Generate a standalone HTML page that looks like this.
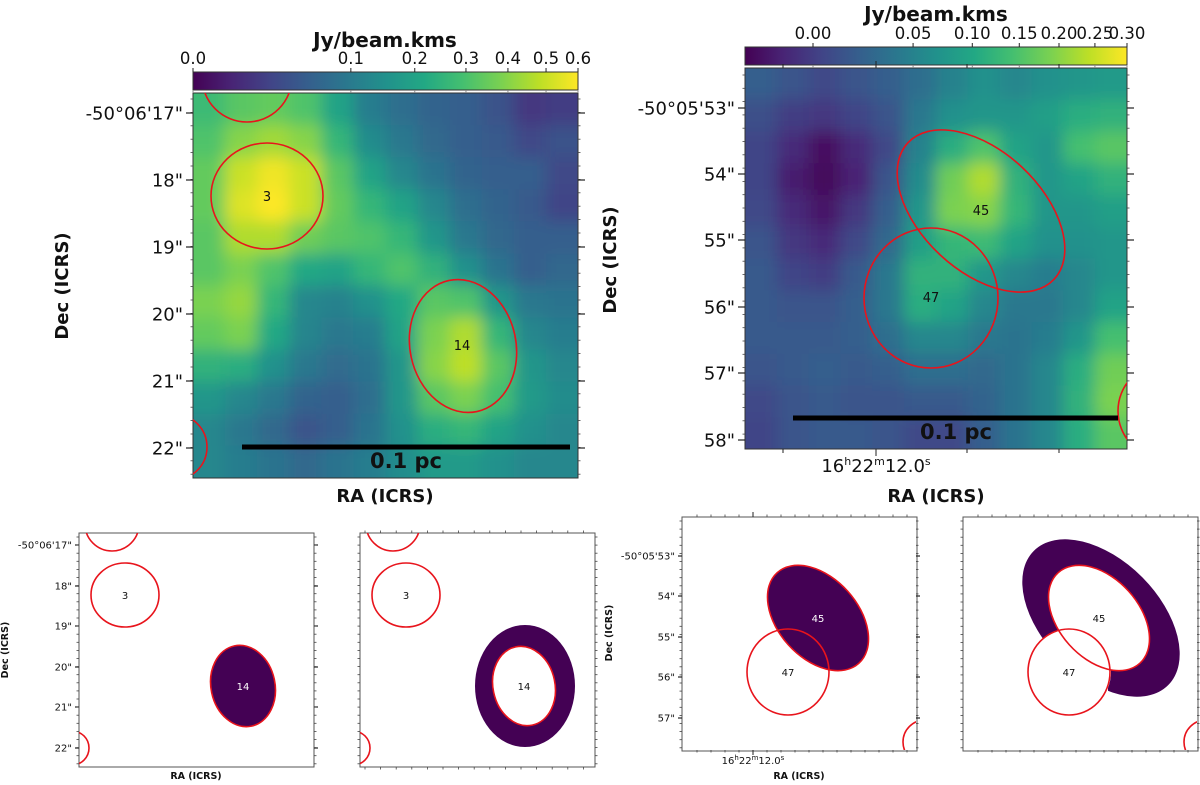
<!DOCTYPE html>
<html><head><meta charset="utf-8"><style>
html,body{margin:0;padding:0;background:#fff;}
svg{display:block;font-family:"DejaVu Sans","Liberation Sans",sans-serif;}
</style></head><body>
<svg id="fig" width="1200" height="785" viewBox="0 0 1200 785" xmlns="http://www.w3.org/2000/svg">
<defs>
<linearGradient id="viridis" x1="0" x2="1" y1="0" y2="0">
<stop offset="0" stop-color="#440154"/><stop offset=".1" stop-color="#482475"/><stop offset=".2" stop-color="#414487"/><stop offset=".3" stop-color="#355f8d"/><stop offset=".4" stop-color="#2a788e"/><stop offset=".5" stop-color="#21918c"/><stop offset=".6" stop-color="#22a884"/><stop offset=".7" stop-color="#44bf70"/><stop offset=".8" stop-color="#7ad151"/><stop offset=".9" stop-color="#bddf26"/><stop offset="1" stop-color="#fde725"/>
</linearGradient>
<filter id="blurA" x="-20%" y="-20%" width="140%" height="140%"><feGaussianBlur stdDeviation="8"/></filter>
<clipPath id="clipTL"><rect x="193" y="93" width="385" height="385"/></clipPath>
<clipPath id="clipTR"><rect x="745" y="68" width="382" height="381"/></clipPath>
<clipPath id="clipBL1"><rect x="79" y="533" width="235" height="234"/></clipPath>
<clipPath id="clipBL2"><rect x="360" y="533" width="235" height="234"/></clipPath>
<clipPath id="clipBR1"><rect x="682" y="517" width="234" height="233"/></clipPath>
<clipPath id="clipBR2"><rect x="963" y="517" width="234" height="233"/></clipPath>
<mask id="ringBL"><rect x="0" y="0" width="1200" height="785" fill="black"/><ellipse cx="525" cy="686" rx="50" ry="61" fill="white"/><ellipse cx="524" cy="686" rx="31" ry="40" transform="rotate(-12 524 686)" fill="black"/></mask>
<mask id="ringBR"><rect x="0" y="0" width="1200" height="785" fill="black"/><ellipse cx="1101" cy="618" rx="95" ry="58" transform="rotate(45 1101 618)" fill="white"/><ellipse cx="1099" cy="618" rx="61" ry="40" transform="rotate(48 1099 618)" fill="black"/><ellipse cx="1069" cy="672" rx="42" ry="43" fill="black"/><rect x="960" y="640" width="148" height="120" fill="black"/></mask>
</defs>
<g id="root"></g>
</svg>
<script>
// ---- data ----
const tlValues = [
[.68,.74,.76,.72,.58,.42,.36,.32,.3,.25,.16,.18],
[.72,.82,.86,.82,.66,.48,.4,.34,.3,.28,.22,.25],
[.76,.92,.98,.92,.74,.58,.46,.38,.32,.3,.3,.22],
[.76,.95,1.0,.92,.76,.66,.58,.46,.36,.32,.28,.2],
[.74,.88,.88,.78,.74,.72,.66,.52,.4,.33,.3,.3],
[.74,.8,.72,.6,.58,.66,.72,.64,.5,.38,.3,.33],
[.8,.84,.66,.46,.44,.5,.6,.74,.72,.52,.4,.38],
[.76,.8,.6,.45,.4,.42,.58,.8,.88,.66,.46,.42],
[.64,.62,.5,.4,.35,.38,.52,.82,.9,.74,.52,.46],
[.52,.46,.4,.32,.3,.36,.52,.74,.8,.7,.54,.48],
[.46,.4,.34,.26,.3,.38,.5,.62,.66,.58,.5,.46],
[.46,.42,.38,.34,.38,.42,.48,.54,.54,.5,.46,.46]];
const trValues = [
[.3,.26,.22,.26,.3,.36,.44,.5,.46,.5,.52,.54],
[.24,.18,.16,.2,.26,.4,.5,.52,.52,.56,.62,.64],
[.2,.12,.04,.12,.22,.44,.62,.72,.58,.52,.7,.74],
[.2,.08,.02,.1,.26,.48,.78,.88,.64,.52,.58,.64],
[.22,.12,.06,.16,.3,.52,.8,.82,.66,.52,.52,.56],
[.26,.16,.12,.22,.34,.56,.66,.68,.58,.5,.5,.52],
[.28,.2,.18,.28,.4,.64,.64,.52,.46,.42,.46,.52],
[.28,.26,.26,.3,.4,.62,.58,.46,.4,.4,.46,.58],
[.28,.28,.28,.3,.36,.46,.46,.4,.38,.42,.52,.7],
[.26,.28,.3,.28,.3,.36,.36,.34,.38,.46,.62,.78],
[.22,.26,.28,.26,.26,.28,.28,.32,.38,.46,.64,.8],
[.2,.26,.28,.28,.26,.22,.22,.3,.38,.46,.62,.74]];
const tlCbarLabels = ["0.0","0.1","0.2","0.3","0.4","0.5","0.6"];
const tlCbarFrac = [0,0.41,0.576,0.709,0.818,0.917,1];
const trCbarLabels = ["0.00","0.05","0.10","0.15","0.20","0.25","0.30"];
const trCbarFrac = [0.178,0.44,0.595,0.718,0.822,0.916,1];
const tlDecLabels = ["-50°06'17\"","18\"","19\"","20\"","21\"","22\""];
const trDecLabels = ["-50°05'53\"","54\"","55\"","56\"","57\"","58\""];
const brDecLabels = ["-50°05'53\"","54\"","55\"","56\"","57\""];

const NS="http://www.w3.org/2000/svg";
const root=document.getElementById('root');
function el(tag,attrs,parent,text){const e=document.createElementNS(NS,tag);for(const k in attrs)e.setAttribute(k,attrs[k]);if(text!==undefined)e.textContent=text;(parent||root).appendChild(e);return e;}
const stops=["#440154","#482475","#414487","#355f8d","#2a788e","#21918c","#22a884","#44bf70","#7ad151","#bddf26","#fde725"];
function hex(h){return [parseInt(h.substr(1,2),16),parseInt(h.substr(3,2),16),parseInt(h.substr(5,2),16)];}
function viridis(v){v=Math.max(0,Math.min(1,v));const p=v*10,i=Math.min(9,Math.floor(p)),f=p-i;const a=hex(stops[i]),b=hex(stops[i+1]);return `rgb(${a.map((c,k)=>Math.round(c+(b[k]-c)*f)).join(',')})`;}

function heatmap(vals,x0,y0,w,h,clip,name){
  const g=el('g',{'clip-path':`url(#${clip})`});
  
  
  const inner=el('g',{filter:'url(#blurA)'},g);
  const n=vals.length,m=vals[0].length,cw=w/m,ch=h/n;
  for(let r=0;r<n;r++)for(let c=0;c<m;c++){
    let x=x0+c*cw,y=y0+r*ch,ww=cw+0.5,hh=ch+0.5;
    if(c===0){x-=40;ww+=40;} if(c===m-1){ww+=40;}
    if(r===0){y-=40;hh+=40;} if(r===n-1){hh+=40;}
    const rc=el('rect',{x:x,y:y,width:ww,height:hh,fill:viridis(vals[r][c])},inner);
    
    
  }
  return g;
}
function frame(x,y,w,h,name){const r=el('rect',{x:x,y:y,width:w,height:h,fill:'none',stroke:'#333','stroke-width':1});}
function yTicks(x0,x1,ys,labels,fs,len,name){
  ys.forEach((y,i)=>{
    el('line',{x1:x0-len,x2:x0,y1:y,y2:y,stroke:'#222','stroke-width':1.2});
    el('line',{x1:x1,x2:x1+len,y1:y,y2:y,stroke:'#222','stroke-width':1.2});
    const t=el('text',{x:x0-len-3,y:y+fs*0.36,'font-size':fs,'text-anchor':'end',fill:'#111'},root,labels[i]);
    
    
  });
}
function minorY(x0,x1,yTop,yBot,step){for(let y=yTop;y<=yBot;y+=step){el('line',{x1:x0-2.5,x2:x0,y1:y,y2:y,stroke:'#444','stroke-width':0.8});el('line',{x1:x1,x2:x1+2.5,y1:y,y2:y,stroke:'#444','stroke-width':0.8});}}
function minorX(y0,y1,xL,xR,step){for(let x=xL;x<=xR;x+=step){el('line',{x1:x,x2:x,y1:y0-2.5,y2:y0,stroke:'#444','stroke-width':0.8});el('line',{x1:x,x2:x,y1:y1,y2:y1+2.5,stroke:'#444','stroke-width':0.8});}}
function label(x,y,txt,fs,name,rot,weight){const a={x:x,y:y,'font-size':fs,'text-anchor':'middle',fill:'#111','font-weight':weight||'bold'};if(rot)a.transform=`rotate(-90 ${x} ${y})`;const t=el('text',a,root,txt);return t;}
function ell(cx,cy,rx,ry,rot,clip,name,fill){const a={cx:cx,cy:cy,rx:rx,ry:ry,fill:fill||'none',stroke:'#e8141c','stroke-width':1.6};if(rot)a.transform=`rotate(${rot} ${cx} ${cy})`;const g=el('g',{'clip-path':`url(#${clip})`});const e=el('ellipse',a,g);return e;}
function colorbar(x,y,w,h,labels,frac,name){
  const r=el('rect',{x:x,y:y,width:w,height:h,fill:'url(#viridis)',stroke:'#333','stroke-width':1});
  
  frac.forEach((f,i)=>{const tx=x+f*w;el('line',{x1:tx,x2:tx,y1:y-4,y2:y,stroke:'#222'});el('line',{x1:tx,x2:tx,y1:y+h,y2:y+h+3,stroke:'#888'});
    const t=el('text',{x:tx,y:y-8,'font-size':16.5,'text-anchor':'middle',fill:'#111'},root,labels[i]);});
}
function scalebar(x1,x2,y,tx,ty,name){const l=el('line',{x1:x1,x2:x2,y1:y,y2:y,stroke:'#000','stroke-width':5});label(tx,ty,'0.1 pc',21,name+'-label');}

// ===== Top-left panel =====
heatmap(tlValues,193,93,385,385,'clipTL','heatmap-left');
frame(193,93,385,385,'left-map-frame');
colorbar(193,72,385,18,tlCbarLabels,tlCbarFrac,'colorbar-left');
label(385,47,'Jy/beam.kms',20,'colorbar-left-title');
const tlY=[113,180,247,314,381,448];
yTicks(193,578,tlY,tlDecLabels,18,7,'left-dec');
minorY(193,578,99,475,13.4);
label(68,286,'Dec (ICRS)',18,'left-y-axis-title',true);
label(385,502,'RA (ICRS)',18,'left-x-axis-title');
ell(247,77,45,45,0,'clipTL','source-top-circle');
ell(267,196,56,53,0,'clipTL','source-3-circle');
label(267,201,'3',13,'source-3-label',false,'normal');
ell(463,346,53,67,-12,'clipTL','source-14-ellipse');
label(462,350,'14',13,'source-14-label',false,'normal');
ell(174,447,33,33,0,'clipTL','source-edge-circle');
scalebar(242,570,447,406,468,'scale-bar-left');

// ===== Top-right panel =====
heatmap(trValues,745,68,382,381,'clipTR','heatmap-right');
frame(745,68,382,381,'right-map-frame');
colorbar(745,47,382,18,trCbarLabels,trCbarFrac,'colorbar-right');
label(936,21,'Jy/beam.kms',20,'colorbar-right-title');
const trY=[108,174,240,307,373,440];
yTicks(745,1127,trY,trDecLabels,18,7,'right-dec');
minorY(745,1127,75,447,13.3);
[783,876,967,1059].forEach((x,i)=>{el('line',{x1:x,x2:x,y1:449,y2:i==1?456:453,stroke:'#222'});el('line',{x1:x,x2:x,y1:68,y2:i==1?61:64,stroke:'#222'});});
const rt=el('text',{x:876,y:472,'font-size':18,'text-anchor':'middle',fill:'#111'});
rt.innerHTML='16<tspan font-size="11" dy="-7">h</tspan><tspan dy="7">22</tspan><tspan font-size="11" dy="-7">m</tspan><tspan dy="7">12.0</tspan><tspan font-size="11" dy="-7">s</tspan>';
label(616,260,'Dec (ICRS)',18,'right-y-axis-title',true);
label(936,502,'RA (ICRS)',18,'right-x-axis-title');
ell(981,211,100,60,43,'clipTR','source-45-ellipse');
label(981,215,'45',13,'source-45-label',false,'normal');
ell(931,298,67,70,0,'clipTR','source-47-circle');
label(931,302,'47',13,'source-47-label',false,'normal');
ell(1166,411,48,48,0,'clipTR','source-edge-circle-right');
scalebar(793,1118,418,956,439,'scale-bar-right');

// ===== Bottom panels =====
function smallFrame(x,y,name){const r=el('rect',{x:x,y:y,width:235,height:234,fill:'#fff',stroke:'#555','stroke-width':1});}
// BL1
smallFrame(79,533,'mask-14-core-frame');
const fl=el('g',{'clip-path':'url(#clipBL1)'});const fe=el('ellipse',{cx:243,cy:686,rx:32,ry:41,transform:'rotate(-12 243 686)',fill:'#440154'},fl);
ell(125,595,34,32,0,'clipBL1','mask1-source-3-circle');
ell(112,524,27,27,0,'clipBL1','mask1-top-circle');
ell(243,686,32,41,-12,'clipBL1','mask1-source-14-ellipse');
ell(72,748,17,17,0,'clipBL1','mask1-edge-circle');
label(125,599,'3',10,'mask1-label-3',false,'normal');
const l14=label(243,690,'14',10,'mask1-label-14',false,'normal');l14.setAttribute('fill','#fff');
yTicks(79,314,[545,586,626,667,707,748],["-50°06'17\"","18\"","19\"","20\"","21\"","22\""],10,4,'bl-dec');
minorY(79,314,537,765,8.1);
label(8,650,'Dec (ICRS)',9.5,'bl-y-axis-title',true);
label(196,779,'RA (ICRS)',9.5,'bl-x-axis-title');
// BL2
smallFrame(360,533,'mask-14-ring-frame');
const rg=el('rect',{x:360,y:533,width:235,height:234,fill:'#440154',mask:'url(#ringBL)'});
ell(406,595,34,32,0,'clipBL2','mask2-source-3-circle');
ell(393,524,27,27,0,'clipBL2','mask2-top-circle');
ell(524,686,31,40,-12,'clipBL2','mask2-source-14-ellipse');
ell(353,748,17,17,0,'clipBL2','mask2-edge-circle');
label(406,599,'3',10,'mask2-label-3',false,'normal');
label(524,690,'14',10,'mask2-label-14',false,'normal');
minorY(360,595,537,765,8.1);minorX(533,767,365,594,15.6);
// BR1
smallFrame(682,517,'mask-45-core-frame');
const fb=el('g',{'clip-path':'url(#clipBR1)'});const fe2=el('ellipse',{cx:818,cy:618,rx:61,ry:40,transform:'rotate(48 818 618)',fill:'#440154'},fb);
ell(818,618,61,40,48,'clipBR1','mask3-source-45-ellipse');
ell(788,672,41,43,0,'clipBR1','mask3-source-47-circle');
ell(925,742,22,22,0,'clipBR1','mask3-edge-circle');
const l45=label(818,622,'45',10,'mask3-label-45',false,'normal');l45.setAttribute('fill','#fff');
label(788,676,'47',10,'mask3-label-47',false,'normal');
yTicks(682,916,[556,596,637,677,718],brDecLabels,10,4,'br-dec');
minorY(682,916,521,748,8.1);minorX(517,750,697,912,14);
el('line',{x1:753,x2:753,y1:750,y2:755,stroke:'#222'});el('line',{x1:753,x2:753,y1:517,y2:512,stroke:'#222'});
const bt=el('text',{x:753,y:764,'font-size':10,'text-anchor':'middle',fill:'#111'});
bt.innerHTML='16<tspan font-size="7" dy="-4">h</tspan><tspan dy="4">22</tspan><tspan font-size="7" dy="-4">m</tspan><tspan dy="4">12.0</tspan><tspan font-size="7" dy="-4">s</tspan>';
label(612,633,'Dec (ICRS)',9.5,'br-y-axis-title',true);
label(799,779,'RA (ICRS)',9.5,'br-x-axis-title');
// BR2
smallFrame(963,517,'mask-45-ring-frame');
const rg2=el('rect',{x:963,y:517,width:234,height:233,fill:'#440154',mask:'url(#ringBR)'});
ell(1099,618,61,40,48,'clipBR2','mask4-source-45-ellipse');
ell(1069,672,41,43,0,'clipBR2','mask4-source-47-circle');
ell(1206,742,22,22,0,'clipBR2','mask4-edge-circle');
label(1099,622,'45',10,'mask4-label-45',false,'normal');
label(1069,676,'47',10,'mask4-label-47',false,'normal');
minorY(963,1197,521,748,8.1);minorX(517,750,978,1193,14);
</script>
</body></html>
